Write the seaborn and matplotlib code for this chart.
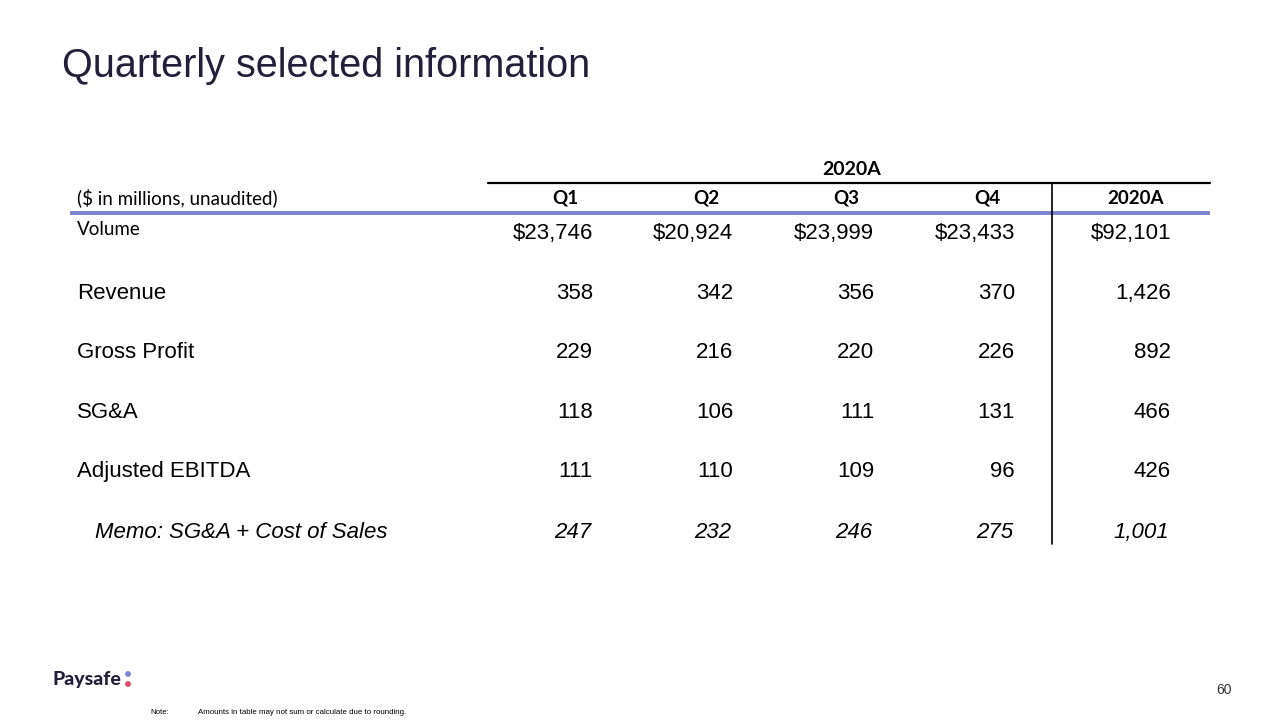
import matplotlib.pyplot as plt
import seaborn as sns

sns.set_theme(style="white")
plt.rcParams['font.family'] = ['Liberation Sans', 'DejaVu Sans']

# table data
row_labels = ['Volume', 'Revenue', 'Gross Profit', 'SG&A', 'Adjusted EBITDA',
              'Memo: SG&A + Cost of Sales']
col_labels = ['Q1', 'Q2', 'Q3', 'Q4', '2020A']
q1 = [23746, 358, 229, 118, 111, 247]
q2 = [20924, 342, 216, 106, 110, 232]
q3 = [23999, 356, 220, 111, 109, 246]
q4 = [23433, 370, 226, 131, 96, 275]
fy = [92101, 1426, 892, 466, 426, 1001]

title = 'Quarterly selected information'
units = '($ in millions, unaudited)'
group_header = '2020A'
note = 'Amounts in table may not sum or calculate due to rounding.'
page_no = '60'

# layout in pixels (baselines)
col_right = [593, 733, 874, 1015, 1171]
col_center = [565, 706, 846, 987, 1135]
row_base = [239, 299, 358, 418, 477, 538]

navy = '#231f3a'
blue = '#7a83cf'

fig = plt.figure(figsize=(12.8, 7.2), dpi=100)
ax = fig.add_axes([0, 0, 1, 1])
ax.set_xlim(0, 1280)
ax.set_ylim(720, 0)
ax.axis('off')

ax.text(62, 77, title, fontsize=28.5, color=navy, va='baseline', ha='left')

# header
ax.text(852, 175, group_header, fontsize=14, fontweight='bold', family='Lato',
        ha='center', va='baseline', color='black')
ax.plot([488, 1210], [183, 183], color='black', lw=1.6)
ax.text(77, 204, units, fontsize=13.5, family='Lato', ha='left', va='baseline', color='black')
for x, c in zip(col_center, col_labels):
    ax.text(x, 204, c, fontsize=13.5, fontweight='bold', family='Lato',
            ha='center', va='baseline', color='black')
ax.plot([70, 1210], [213, 213], color=blue, lw=2.8, solid_capstyle='butt')
ax.plot([1052, 1052], [183, 544], color='black', lw=1.2)

# rows
cols = [q1, q2, q3, q4, fy]
for i, label in enumerate(row_labels):
    y = row_base[i]
    memo = label.startswith('Memo')
    if i == 0:
        ax.text(77, 235, label, fontsize=13.5, family='Lato', ha='left', va='baseline', color='black')
    elif memo:
        ax.text(95, y, label, fontsize=16, style='italic', ha='left', va='baseline', color='black')
    else:
        ax.text(77, y, label, fontsize=16, ha='left', va='baseline', color='black')
    for j, col in enumerate(cols):
        v = col[i]
        s = f'${v:,}' if i == 0 else f'{v:,}'
        x = col_right[j] - (2 if memo else 0)
        ax.text(x, y, s, fontsize=16, ha='right', va='baseline', color='black',
                style='italic' if memo else 'normal')

# footer
ax.text(52, 685, 'Paysafe', fontsize=14, fontweight=900, family='Lato',
        ha='left', va='baseline', color=navy)
ax.scatter([128, 128], [674, 684], s=10, color=['#7b86d6', '#e8476a'], zorder=3)
ax.text(150, 714, 'Note:', fontsize=5.7, ha='left', va='baseline', color='black')
ax.text(198, 714, note, fontsize=5.7, ha='left', va='baseline', color='black')
ax.text(1232, 694, page_no, fontsize=10, ha='right', va='baseline', color='#333333')

fig.savefig('out.png', dpi=100)
